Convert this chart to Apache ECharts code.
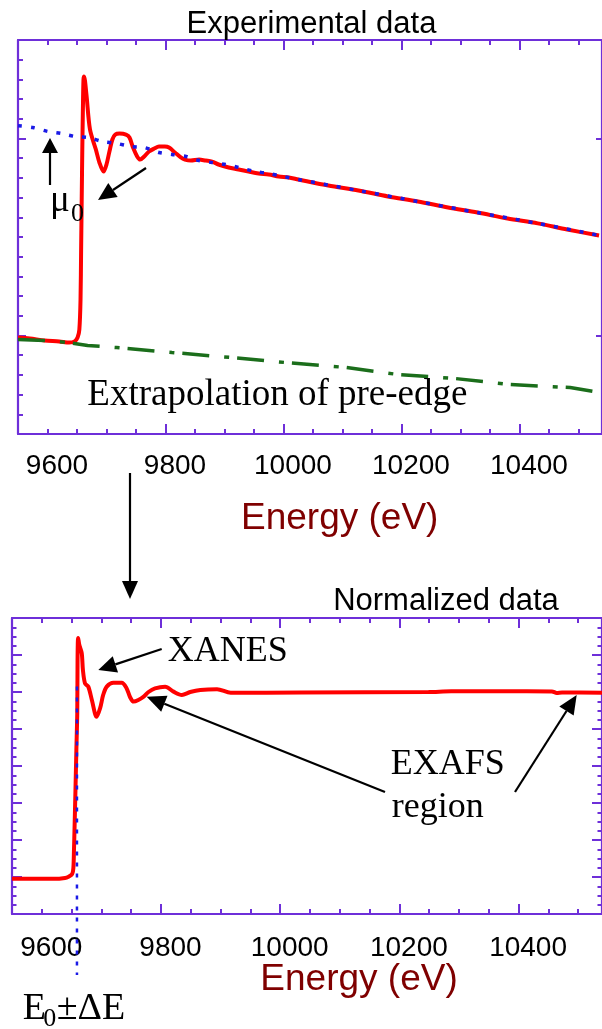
<!DOCTYPE html>
<html>
<head>
<meta charset="utf-8">
<script src="https://cdn.jsdelivr.net/npm/echarts@6/dist/echarts.min.js"></script>
<style>
  html, body { margin: 0; padding: 0; background: #ffffff; }
  #chart { width: 602px; height: 1029px; }
</style>
</head>
<body>
<div id="chart"></div>
<script>
// ---- Raw absorption spectrum (energy in eV, absorption in arbitrary units) ----
const expEnergy = [9550, 9570, 9595, 9620, 9637, 9646, 9651, 9654, 9656, 9657, 9658, 9659, 9660, 9661, 9662,
  9666, 9672, 9682, 9688, 9695, 9700, 9705, 9710, 9715, 9722, 9733, 9739, 9745, 9752, 9757, 9764, 9772,
  9781, 9789, 9799, 9806, 9816, 9826, 9833, 9843, 9857, 9868, 9879, 9890, 9907, 9924, 9941, 9958, 9975,
  9992, 10009, 10025, 10076, 10127, 10177, 10228, 10279, 10329, 10380, 10431, 10481, 10535];
const expMu = [-0.010, -0.015, -0.025, -0.030, -0.036, -0.030, -0.010, 0.030, 0.183, 0.437, 0.690, 0.944, 1.147, 1.299, 1.315,
  1.223, 1.046, 0.944, 0.878, 0.832, 0.868, 0.934, 0.995, 1.020, 1.025, 1.020, 1.005, 0.954, 0.909, 0.893, 0.909, 0.934,
  0.949, 0.959, 0.959, 0.954, 0.929, 0.904, 0.893, 0.888, 0.893, 0.888, 0.883, 0.868, 0.853, 0.843, 0.832, 0.822, 0.817,
  0.807, 0.802, 0.792, 0.761, 0.736, 0.706, 0.680, 0.650, 0.624, 0.594, 0.569, 0.538, 0.508];

// Smooth atomic background mu0
const mu0Energy = [9550, 9575, 9600, 9624, 9647, 9669, 9693, 9717, 9742, 9764, 9789, 9811, 9835, 9857,
  9879, 9902, 9924, 9953, 9975, 10000, 10025, 10127, 10228, 10329, 10431, 10535];
const mu0Values = [1.065, 1.056, 1.036, 1.025, 1.010, 1.005, 0.985, 0.975, 0.959, 0.954, 0.929, 0.919, 0.909, 0.888,
  0.878, 0.868, 0.853, 0.832, 0.822, 0.807, 0.792, 0.736, 0.680, 0.624, 0.569, 0.508];

// Pre-edge line extrapolated across the whole range
const preEdgeEnergy = [9550, 9595, 9637, 9668, 9717, 9811, 9912, 10003, 10105, 10194, 10290, 10385, 10486, 10535];
const preEdgeValues = [-0.020, -0.025, -0.036, -0.051, -0.061, -0.086, -0.112, -0.137, -0.162, -0.198, -0.218, -0.249, -0.264, -0.289];

// ---- Normalized spectrum ----
const normEnergy = [9550, 9597, 9622, 9639, 9644, 9651, 9653, 9654, 9655, 9656.5, 9658, 9659.5, 9660, 9661, 9663,
  9667, 9669, 9672.5, 9678, 9684, 9692, 9698, 9703, 9709, 9720, 9734, 9742, 9748, 9754, 9762, 9771, 9779,
  9790, 9807, 9821, 9835, 9849, 9866, 9894, 9917, 10035, 10249, 10287, 10372, 10456, 10464, 10473, 10540];
const normMu = [-0.010, -0.010, -0.010, -0.005, 0.000, 0.016, 0.049, 0.146, 0.270, 0.470, 0.686, 0.886, 1.173, 1.292, 1.254,
  1.211, 1.119, 1.047, 1.029, 0.957, 0.866, 0.914, 0.984, 1.029, 1.050, 1.050, 1.022, 0.973, 0.948, 0.957, 0.975, 1.000,
  1.020, 1.029, 1.002, 0.984, 1.000, 1.011, 1.015, 0.996, 0.997, 1.000, 1.004, 1.004, 1.003, 0.995, 0.997, 0.996];

// Edge position E0 and the vertical extent of its marker line
const edgeEnergy = 9659;
const edgeLineSpan = [1.03, -0.53];

// Axis ticks
const tickLabels = [9600, 9800, 10000, 10200, 10400];
const majorTicks = [9800, 10000, 10200, 10400];

const AXIS = '#6e2fd9';
const SANS = "'Liberation Sans', Arial, sans-serif";
const SERIF = "'Liberation Serif', 'Times New Roman', serif";
const zip = (xs, ys) => xs.map((x, i) => [x, ys[i]]);

const axisLine = { show: true, onZero: false, lineStyle: { color: AXIS, width: 2.2 } };
const noLine = { show: false, onZero: false };
const tick = (len, extra) => Object.assign({ show: true, inside: true, length: len, lineStyle: { color: AXIS, width: 2 } }, extra || {});

function energyAxes(grid, labelMargin) {
  const base = { gridIndex: grid, type: 'value', min: 9550, max: 10540, splitLine: { show: false } };
  return [
    Object.assign({}, base, { position: 'bottom', interval: 50, axisLine: axisLine, axisTick: tick(5),
      axisLabel: { customValues: tickLabels, formatter: v => String(v), fontSize: 28, fontFamily: SANS,
        color: '#000', margin: labelMargin, padding: [0, 0, 0, 19] } }),
    Object.assign({}, base, { position: 'bottom', axisLine: noLine, axisTick: tick(10, { customValues: majorTicks }), axisLabel: { show: false } }),
    Object.assign({}, base, { position: 'top', interval: 50, axisLine: axisLine, axisTick: tick(5), axisLabel: { show: false } }),
    Object.assign({}, base, { position: 'top', axisLine: noLine, axisTick: tick(10, { customValues: majorTicks }), axisLabel: { show: false } })
  ];
}

function yAxis(grid, pos, min, max, extra) {
  return Object.assign({ gridIndex: grid, type: 'value', position: pos, min: min, max: max,
    axisLabel: { show: false }, splitLine: { show: false } }, extra);
}

const yAxes = [
  // raw spectrum
  yAxis(0, 'left', -0.5, 1.5, { interval: 0.1, axisLine: axisLine, axisTick: tick(5) }),
  yAxis(0, 'left', -0.5, 1.5, { axisLine: noLine, axisTick: tick(8, { customValues: [0, 1] }) }),
  yAxis(0, 'right', -0.5, 1.5, { axisLine: axisLine, axisTick: tick(6, { customValues: [0, 1] }) }),
  // normalized spectrum
  yAxis(1, 'left', -0.2, 1.4, { interval: 0.05, axisLine: axisLine, axisTick: tick(4.5) }),
  yAxis(1, 'left', -0.2, 1.4, { interval: 0.2, axisLine: noLine, axisTick: tick(10) }),
  yAxis(1, 'right', -0.2, 1.4, { interval: 0.05, axisLine: axisLine, axisTick: tick(4.5) }),
  yAxis(1, 'right', -0.2, 1.4, { interval: 0.2, axisLine: noLine, axisTick: tick(10) })
];

function arrow(x1, y1, x2, y2, head, half) {
  head = head || 15; half = half || 6.5;
  const a = Math.atan2(y2 - y1, x2 - x1);
  const c = Math.cos(a), s = Math.sin(a);
  const bx = x2 - head * c, by = y2 - head * s;
  return [
    { type: 'line', shape: { x1: x1, y1: y1, x2: bx, y2: by }, style: { stroke: '#000', lineWidth: 2.2 }, z: 10 },
    { type: 'polygon', shape: { points: [[x2, y2], [bx + half * s, by - half * c], [bx - half * s, by + half * c]] },
      style: { fill: '#000' }, z: 10 }
  ];
}

function label(text, x, y, size, family, color, align) {
  return { type: 'text', x: x, y: y, z: 10,
    style: { text: text, fontSize: size, fontFamily: family, fill: color || '#000',
      align: align || 'left', textAlign: align || 'left', verticalAlign: 'middle', textVerticalAlign: 'middle' } };
}

const graphics = [].concat(
  label('Experimental data', 311.5, 24.3, 31, SANS, '#000', 'center'),
  label('Energy (eV)', 339.7, 519.2, 37, SANS, '#7f0000', 'center'),
  label('Extrapolation of pre-edge', 87.3, 395.2, 37, SERIF),
  label('\u03bc', 50, 201, 37, SERIF),
  label('0', 71, 214.2, 26, SERIF),
  arrow(50, 185, 50, 138, 15, 8),
  arrow(146, 168, 98, 200, 18, 8.5),
  arrow(130, 473, 130, 599, 18, 8),
  label('Normalized data', 446, 601, 31, SANS, '#000', 'center'),
  label('XANES', 167.7, 651.1, 36, SERIF),
  arrow(161.7, 649, 98.3, 670, 18, 8.5),
  label('EXAFS', 390.7, 764.5, 36, SERIF),
  label('region', 391.7, 807.9, 36, SERIF),
  arrow(385, 792, 146.7, 696.7, 19, 8.5),
  arrow(515, 792, 576.7, 695, 19, 8.5),
  label('Energy (eV)', 359, 980.2, 37, SANS, '#7f0000', 'center'),
  label('E', 22.7, 1008.9, 38, SERIF),
  label('0', 43.3, 1019, 26, SERIF),
  label('\u00b1\u0394E', 56.7, 1008.9, 38, SERIF)
);

const chart = echarts.init(document.getElementById('chart'), null, { renderer: 'canvas' });
chart.setOption({
  animation: false,
  backgroundColor: '#ffffff',
  grid: [
    { left: 18, top: 40, width: 587, height: 394 },
    { left: 12, top: 618, width: 591, height: 296 }
  ],
  xAxis: energyAxes(0, 18).concat(energyAxes(1, 20)),
  yAxis: yAxes,
  series: [
    { name: 'mu', type: 'line', xAxisIndex: 0, yAxisIndex: 0, data: zip(expEnergy, expMu),
      showSymbol: false, smooth: 0.3, lineStyle: { color: '#ff0000', width: 4 }, z: 2 },
    { name: 'mu0', type: 'line', xAxisIndex: 0, yAxisIndex: 0, data: zip(mu0Energy, mu0Values),
      showSymbol: false, smooth: 0.3, lineStyle: { color: '#1a1ae6', width: 3.5, type: [4, 9] }, z: 3 },
    { name: 'pre-edge', type: 'line', xAxisIndex: 0, yAxisIndex: 0, data: zip(preEdgeEnergy, preEdgeValues),
      showSymbol: false, lineStyle: { color: '#1b6e1b', width: 3.5, type: [27, 15, 5, 8] }, z: 3 },
    { name: 'normalized', type: 'line', xAxisIndex: 4, yAxisIndex: 3, data: zip(normEnergy, normMu),
      showSymbol: false, smooth: 0.3, lineStyle: { color: '#ff0000', width: 4 }, z: 2 },
    { name: 'E0', type: 'line', xAxisIndex: 4, yAxisIndex: 3, clip: false,
      data: edgeLineSpan.map(v => [edgeEnergy, v]),
      showSymbol: false, lineStyle: { color: '#1a1ae6', width: 2.5, type: [4, 7] }, z: 3 }
  ],
  graphic: graphics
});
</script>
</body>
</html>
